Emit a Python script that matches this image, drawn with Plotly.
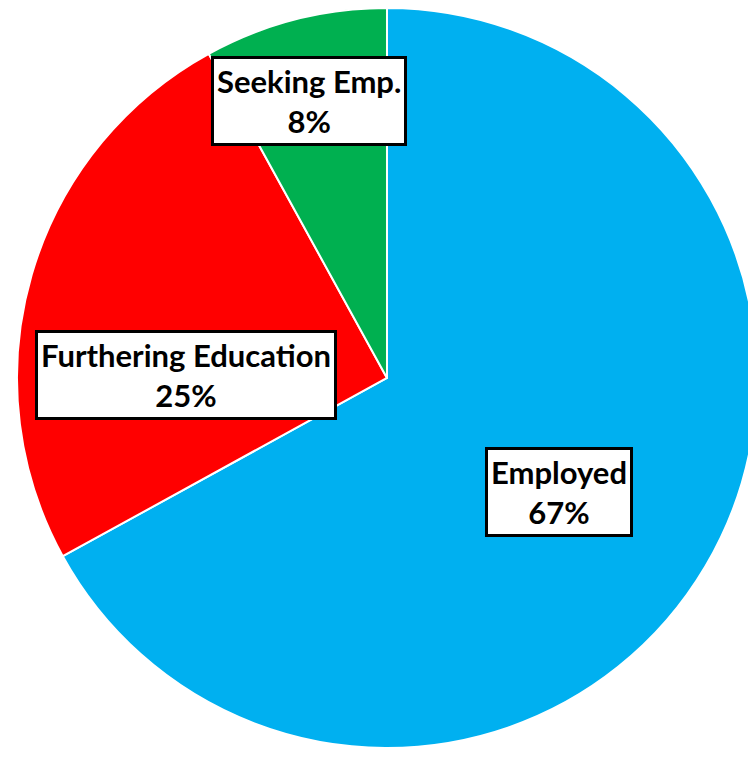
import plotly.graph_objects as go

labels = ["Employed", "Furthering Education", "Seeking Emp."]
values = [67, 25, 8]
colors = ["#00B0F0", "#FF0000", "#00B050"]
label_pos = [(0.729, 0.361), (0.2355, 0.515), (0.398, 0.877)]

fig = go.Figure()
fig.add_trace(go.Pie(
    labels=labels, values=values, sort=False, direction="clockwise", rotation=0,
    marker=dict(colors=colors, line=dict(color="white", width=2)),
    textinfo="none", hoverinfo="label+percent", showlegend=False,
    domain=dict(x=[0.0119, 0.9907], y=[0.0225, 1.0]),
))

total = sum(values)
for lab, val, (px, py) in zip(labels, values, label_pos):
    pct = round(100 * val / total)
    fig.add_annotation(
        x=px, y=py, xref="paper", yref="paper", showarrow=False,
        xanchor="center", yanchor="middle",
        text=f"<b>{lab}</b><br><b>{pct}%</b>",
        font=dict(family="Lato", size=31, color="black"),
        bgcolor="white", bordercolor="black", borderwidth=3, borderpad=3,
        align="center",
    )

fig.update_layout(width=756, height=757, margin=dict(l=0, r=0, t=0, b=0),
                  paper_bgcolor="white", plot_bgcolor="white")
fig.write_html("out.html")
